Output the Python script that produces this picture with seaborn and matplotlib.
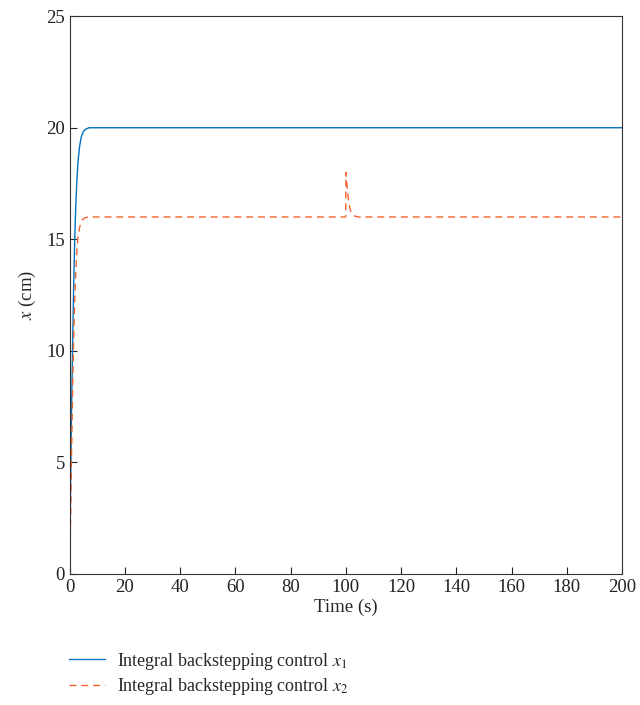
import numpy as np
import pandas as pd
import matplotlib
matplotlib.use("Agg")
import matplotlib.pyplot as plt
import seaborn as sns

# Data
t1 = [0, 0.3, 0.6, 1.0, 1.4, 1.8, 2.2, 2.6, 3.0, 3.6, 4.2, 5.0, 6.0, 7.0, 8.0, 10.0, 50.0, 100.0, 150.0, 200.0]
x1 = [0, 4.0, 7.0, 10.0, 12.8, 15.0, 16.6, 17.7, 18.5, 19.2, 19.6, 19.85, 19.95, 20.0, 20.0, 20.0, 20.0, 20.0, 20.0, 20.0]

t2 = [0, 0.3, 0.6, 1.0, 1.4, 1.8, 2.2, 2.6, 3.0, 3.6, 4.2, 5.0, 6.0, 7.0, 10.0, 50.0, 99.9, 100.0, 100.4, 100.8, 101.2, 101.6, 102.0, 102.6, 103.4, 104.5, 150.0, 200.0]
x2 = [0, 2.5, 5.0, 8.0, 10.5, 12.3, 13.6, 14.5, 15.1, 15.55, 15.8, 15.93, 15.98, 16.0, 16.0, 16.0, 16.0, 18.0, 17.4, 16.9, 16.55, 16.32, 16.18, 16.08, 16.03, 16.0, 16.0, 16.0]

xticks = [0, 20, 40, 60, 80, 100, 120, 140, 160, 180, 200]
yticks = [0, 5, 10, 15, 20, 25]
labels = ["Integral backstepping control $x_1$", "Integral backstepping control $x_2$"]

sns.set_theme(style="white")
plt.rcParams['font.family'] = ['Liberation Serif', 'DejaVu Serif']
plt.rcParams['mathtext.fontset'] = 'stix'

df1 = pd.DataFrame({"t": t1, "x": x1})
df2 = pd.DataFrame({"t": t2, "x": x2})

fig = plt.figure(figsize=(6.4, 7.05), dpi=100)
ax = fig.add_axes([0.109, 0.186, 0.863, 0.791])

sns.lineplot(data=df1, x="t", y="x", ax=ax, color="#0072BD", linewidth=1.0, label=labels[0], legend=False)
sns.lineplot(data=df2, x="t", y="x", ax=ax, color="#F0642D", linewidth=1.0, linestyle=(0, (5, 3.5)), label=labels[1], legend=False)

ax.set_xlim(0, 200)
ax.set_ylim(0, 25)
ax.set_xticks(xticks)
ax.set_yticks(yticks)
ax.tick_params(direction="in", length=5, width=0.8, labelsize=13.5, colors="#222222", top=False, right=False, bottom=True, left=True)
for s in ax.spines.values():
    s.set_color("#333333")
    s.set_linewidth(0.8)
ax.set_xlabel("Time (s)", fontsize=13.5, labelpad=2)
ax.set_ylabel("$x$ (cm)", fontsize=13.5, labelpad=6)

handles, labs = ax.get_legend_handles_labels()
fig.legend(handles, labs, loc="upper left", bbox_to_anchor=(0.083, 0.1), frameon=False,
           fontsize=13, handlelength=1.95, handletextpad=0.7, labelspacing=0.25)

fig.savefig("out.png", dpi=100)
